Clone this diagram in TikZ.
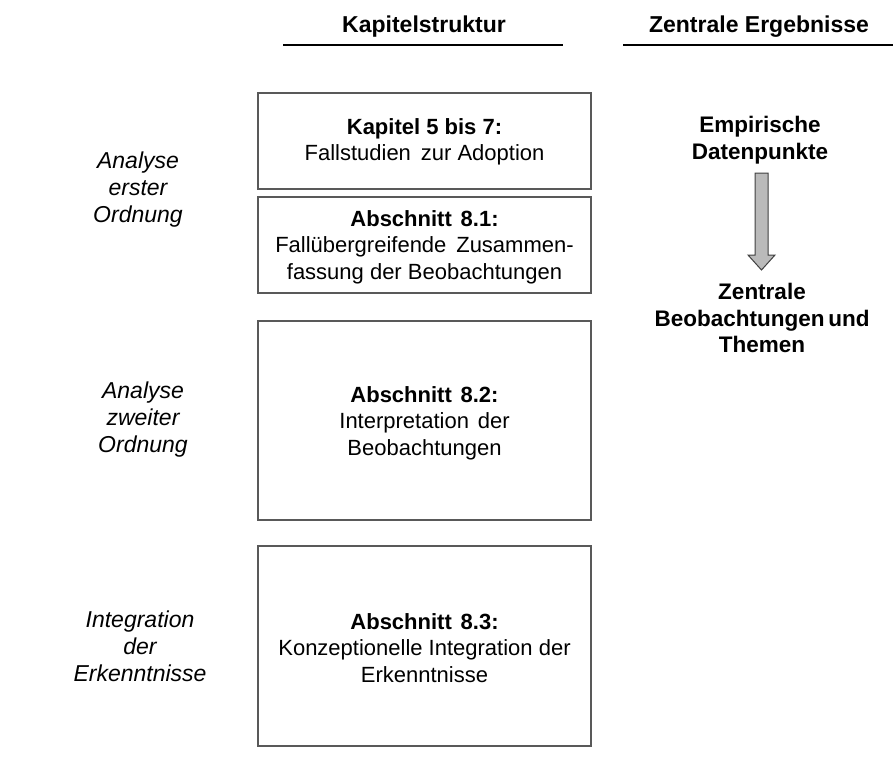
\documentclass[tikz,border=0pt]{standalone}
\usepackage{fontspec}
\setmainfont{Liberation Sans}
\begin{document}
\begin{tikzpicture}[x=1pt,y=-1pt,
  txt/.style={font=\fontsize{22}{26.5}\selectfont, align=center, inner sep=0pt},
  side/.style={txt, font=\fontsize{23}{27}\selectfont\itshape},
  head/.style={txt, font=\fontsize{23}{27}\selectfont\bfseries},
  res/.style={txt, font=\fontsize{22.5}{26.5}\selectfont\bfseries},
  chapbox/.style={draw=black!65, line width=1.1pt, fill=white},
  rule/.style={draw=black, line width=1.6pt},
  bigarrow/.style={draw=black!75, line width=1pt, fill=black!27}]
\useasboundingbox (0,0) rectangle (894,774);
% headers
\node[head] (h1) at (424,27) {Kapitelstruktur};
\node[head] (h2) at (759,27) {Zentrale Ergebnisse};
\coordinate (h1l) at (283,45); \coordinate (h1r) at (563,45);
\coordinate (h2l) at (623,45); \coordinate (h2r) at (893,45);
\draw[rule] (h1l) -- (h1r);
\draw[rule] (h2l) -- (h2r);
% boxes
\draw[chapbox] (258,93) rectangle (591,189);
\draw[chapbox] (258,197) rectangle (591,293);
\draw[chapbox] (258,321) rectangle (591,520);
\draw[chapbox] (258,546) rectangle (591,746);
\node[txt] (b1) at (424.5,142) {\textbf{Kapitel 5 bis 7:}\\Fallstudien\hspace{0.45em}zur Adoption};
\node[txt] (b2) at (424.5,247) {\textbf{Abschnitt\hspace{0.4em}8.1:}\\Fall\"ubergreifende\hspace{0.45em}Zusammen-\\fassung der Beobachtungen};
\node[txt] (b3) at (424.5,423) {\textbf{Abschnitt\hspace{0.4em}8.2:}\\Interpretation\hspace{0.4em}der\\Beobachtungen};
\node[txt] (b4) at (424.5,648) {\textbf{Abschnitt\hspace{0.4em}8.3:}\\Konzeptionelle Integration der\\Erkenntnisse};
% side labels
\node[side] (s1) at (138,190) {Analyse\\erster\\Ordnung};
\node[side] (s2) at (143,420) {Analyse\\zweiter\\Ordnung};
\node[side] (s3) at (140,646) {Integration\\der\\Erkenntnisse};
% results
\node[res] (r1) at (760,140) {Empirische\\Datenpunkte};
\node[res] (r2) at (762,318) {Zentrale\\Beobachtungen\,und\\Themen};
\draw[bigarrow] (755,173) -- (768,173) -- (768,255) -- (775,255) -- (761.5,270)
  -- (748,255) -- (755,255) -- cycle;
\end{tikzpicture}
\end{document}
